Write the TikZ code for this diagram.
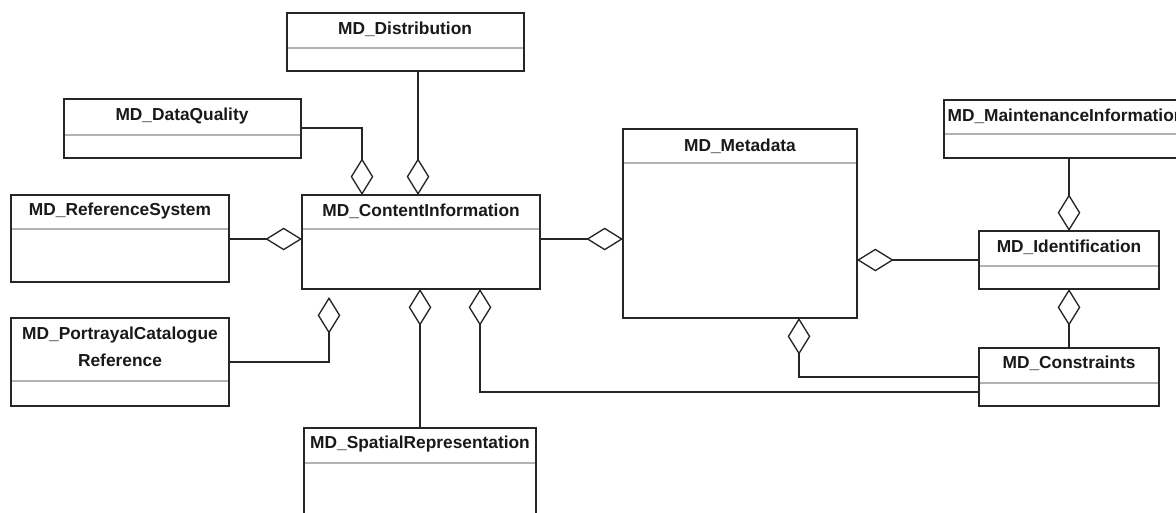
\documentclass[tikz,border=0pt]{standalone}
\usepackage{fontspec}
\setmainfont{Liberation Sans}
\usetikzlibrary{arrows.meta,calc}

% one drawing unit = one pixel of the 1176 x 512 sheet, y grows downwards
\newcommand\classbox[8]{% name, x1, y1, x2, y2, separator y, title x, title y
  \node[umlclass, minimum width={(#4-#2)*0.75pt}, minimum height={(#5-#3)*0.75pt}]
    (#1) at ({(#2+#4)/2},{(#3+#5)/2}) {};
  \draw[sepline] ({#2+1},#6) -- ({#4-1},#6);
}

\begin{document}
\begin{tikzpicture}[x=0.75pt, y=-0.75pt,
  umlclass/.style={draw=black!85, line width=1.4pt, fill=white, rectangle,
    inner sep=0pt, outer sep=0pt},
  sepline/.style={draw=black!30, line width=1.1pt},
  umltitle/.style={font=\fontsize{13}{17}\selectfont\bfseries, text=black!90,
    inner sep=0pt, align=center},
  agg/.style={draw=black!85, line width=1pt,
    -{Diamond[open, length=27.5pt, width=17pt]}}]

\useasboundingbox (0,0) rectangle (1176,512);
\fill[white] (0,0) rectangle (1176,512);
\clip (0,0) rectangle (1176,512);

% class boxes
\classbox{dist}{287}{13}{524}{71}{48}{405}{29}
\classbox{dq}{64}{99}{301}{158}{135}{182}{116}
\classbox{rs}{11}{195}{229}{282}{229}{120}{211}
\classbox{ci}{302}{195}{540}{289}{229}{421}{211}
\classbox{pcr}{11}{318}{229}{406}{381}{120}{347}
\classbox{sr}{304}{428}{536}{540}{463}{420}{444}
\classbox{md}{623}{129}{857}{318}{163}{740}{146}
\classbox{mi}{944}{100}{1194}{158}{134}{1066}{116}
\classbox{id}{979}{231}{1159}{289}{266}{1069}{247}
\classbox{con}{979}{348}{1159}{406}{383}{1069}{363}

% class names
\node[umltitle] (dist-t) at (405,29) {MD\_Distribution};
\node[umltitle] (dq-t) at (182,116) {MD\_DataQuality};
\node[umltitle] (rs-t) at (120,211) {MD\_ReferenceSystem};
\node[umltitle] (ci-t) at (421,211) {MD\_ContentInformation};
\node[umltitle, font=\fontsize{13}{20.5}\selectfont\bfseries] (pcr-t) at (120,347)
  {MD\_PortrayalCatalogue\\Reference};
\node[umltitle] (sr-t) at (420,444) {MD\_SpatialRepresentation};
\node[umltitle] (md-t) at (740,146) {MD\_Metadata};
\node[umltitle] (mi-t) at (1066,116) {MD\_MaintenanceInformation};
\node[umltitle] (id-t) at (1069,247) {MD\_Identification};
\node[umltitle] (con-t) at (1069,363) {MD\_Constraints};

% aggregations (open diamond at the aggregate)
\draw[agg] ($(dq.north east)+(0,29)$) -| ($(ci.north west)+(60,0)$);
\draw[agg] ($(dist.south west)+(131,0)$) -- ($(ci.north west)+(116,0)$);
\draw[agg] ($(rs.north east)+(0,44)$) -- ($(ci.north west)+(0,44)$);
\draw[agg] ($(ci.north east)+(0,44)$) -- ($(md.north west)+(0,110)$);
\draw[agg] ($(id.north west)+(0,29)$) -- ($(md.north east)+(0,131)$);
\draw[agg] ($(mi.south west)+(125,0)$) -- ($(id.north west)+(90,0)$);
\draw[agg] ($(con.north west)+(90,0)$) -- ($(id.south west)+(90,0)$);
\draw[agg] ($(con.north west)+(0,29)$) -| ($(md.south west)+(176,0)$);
\draw[agg] ($(con.north west)+(0,44)$) -| ($(ci.south west)+(178,0)$);
\draw[agg] ($(pcr.north east)+(0,44)$) -| ($(ci.south west)+(27,8)$);
\draw[agg] ($(sr.north west)+(116,0)$) -- ($(ci.south west)+(118,0)$);

\end{tikzpicture}
\end{document}
